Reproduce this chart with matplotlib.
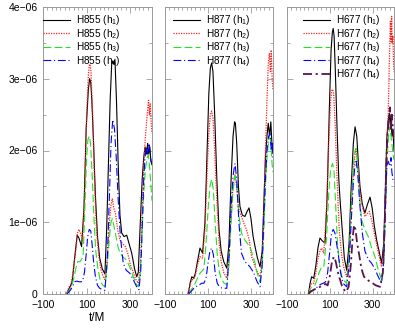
import matplotlib
matplotlib.use('Agg')
import matplotlib.pyplot as plt
from matplotlib.ticker import FixedLocator, FixedFormatter, MultipleLocator

plt.rcParams['font.family'] = ['Liberation Sans', 'DejaVu Sans']
plt.rcParams['mathtext.default'] = 'regular'

# values in units of 1e-6, times in M
# ---- panel 1: H855
h855_t1 = [8, 20, 28, 35, 45, 57, 65, 77, 88, 98, 108, 114, 119, 124, 132, 140, 150, 160, 172, 184, 192, 200, 208, 215, 220, 225, 230, 237, 245, 253, 261, 272, 284, 295, 307, 320, 330, 337, 345, 355, 362, 368, 375, 380, 385, 390, 395, 400]
h855_v1 = [0, 0.08, 0.12, 0.2, 0.5, 0.82, 0.78, 0.66, 1.2, 2.3, 2.85, 3.0, 2.95, 2.7, 2.1, 1.4, 0.8, 0.5, 0.35, 0.28, 0.9, 1.8, 2.7, 3.2, 3.25, 3.2, 3.27, 2.7, 1.8, 1.1, 0.85, 0.8, 0.82, 0.7, 0.57, 0.35, 0.24, 0.3, 0.9, 1.6, 1.9, 2.05, 1.95, 2.1, 1.95, 2.05, 1.85, 1.8]
h855_t2 = [6, 20, 30, 40, 50, 58, 65, 72, 82, 92, 100, 108, 113, 116, 120, 128, 136, 145, 155, 165, 175, 184, 195, 205, 212, 218, 224, 232, 242, 253, 265, 278, 290, 302, 314, 326, 337, 347, 355, 362, 370, 378, 384, 388, 392, 396, 400]
h855_v2 = [0, 0.1, 0.15, 0.35, 0.6, 0.85, 0.9, 0.85, 0.75, 1.5, 2.5, 3.05, 3.2, 3.2, 3.1, 2.5, 1.6, 0.9, 0.55, 0.35, 0.25, 0.2, 0.5, 1.0, 1.25, 1.33, 1.2, 1.13, 0.9, 0.75, 0.7, 0.66, 0.55, 0.4, 0.3, 0.2, 0.15, 0.4, 1.2, 1.8, 2.2, 2.5, 2.7, 2.5, 2.65, 2.4, 2.24]
h855_t3 = [8, 20, 30, 40, 50, 59, 70, 84, 92, 100, 106, 112, 118, 125, 133, 142, 152, 162, 172, 184, 195, 205, 212, 218, 225, 235, 245, 253, 265, 284, 300, 314, 326, 337, 347, 355, 362, 370, 378, 383, 388, 393, 400]
h855_v3 = [0, 0.05, 0.1, 0.2, 0.35, 0.45, 0.45, 0.52, 1.2, 1.9, 2.15, 2.2, 2.1, 1.7, 1.1, 0.6, 0.35, 0.2, 0.13, 0.1, 0.4, 0.8, 1.0, 1.05, 0.95, 0.8, 0.65, 0.57, 0.52, 0.47, 0.36, 0.24, 0.15, 0.1, 0.3, 0.9, 1.4, 1.75, 1.9, 1.94, 1.8, 1.6, 1.3]
h855_t4 = [10, 25, 35, 45, 55, 65, 75, 82, 90, 98, 105, 112, 119, 125, 132, 140, 150, 160, 172, 184, 195, 205, 212, 220, 228, 236, 245, 255, 268, 282, 298, 314, 330, 340, 348, 356, 362, 368, 374, 380, 386, 392, 396, 400]
h855_v4 = [0, 0.05, 0.1, 0.17, 0.18, 0.17, 0.17, 0.18, 0.3, 0.55, 0.8, 0.9, 0.88, 0.7, 0.45, 0.25, 0.12, 0.08, 0.06, 0.05, 0.5, 1.4, 2.1, 2.43, 2.3, 1.9, 1.31, 0.8, 0.43, 0.33, 0.29, 0.2, 0.1, 0.06, 0.3, 1.0, 1.6, 1.9, 2.05, 1.95, 2.1, 1.95, 1.85, 1.82]

# ---- panel 2: H877
h877_t1 = [8, 16, 24, 32, 40, 50, 62, 74, 85, 95, 103, 110, 116, 122, 130, 140, 150, 160, 172, 186, 196, 206, 215, 222, 226, 232, 240, 247, 258, 270, 280, 289, 298, 308, 317, 328, 340, 350, 358, 365, 372, 378, 384, 390, 395, 400]
h877_v1 = [0, 0.15, 0.24, 0.22, 0.28, 0.45, 0.64, 0.57, 1.0, 2.0, 2.8, 3.15, 3.22, 3.1, 2.5, 1.6, 0.9, 0.6, 0.45, 0.36, 0.7, 1.6, 2.2, 2.4, 2.38, 2.1, 1.5, 1.22, 1.1, 1.08, 1.15, 1.2, 1.05, 0.8, 0.66, 0.5, 0.38, 0.6, 1.3, 1.9, 2.2, 2.38, 2.2, 2.4, 2.1, 1.96]
h877_t2 = [8, 16, 24, 32, 40, 50, 62, 74, 85, 95, 103, 110, 116, 122, 130, 140, 150, 160, 172, 186, 196, 206, 215, 224, 232, 240, 254, 266, 277, 290, 301, 315, 328, 340, 350, 358, 365, 372, 378, 383, 388, 392, 396, 400]
h877_v2 = [0, 0.12, 0.2, 0.2, 0.25, 0.4, 0.52, 0.5, 0.9, 1.7, 2.25, 2.5, 2.55, 2.45, 2.0, 1.3, 0.75, 0.45, 0.3, 0.22, 0.5, 1.1, 1.5, 1.66, 1.5, 1.2, 1.08, 0.98, 0.9, 0.75, 0.52, 0.4, 0.3, 0.24, 0.5, 1.2, 2.0, 2.7, 3.2, 3.35, 3.1, 3.4, 3.0, 2.85]
h877_t3 = [10, 20, 30, 40, 50, 62, 72, 80, 90, 100, 108, 116, 124, 132, 142, 152, 162, 174, 186, 196, 206, 215, 224, 232, 242, 254, 270, 293, 305, 317, 328, 340, 350, 358, 365, 372, 380, 386, 392, 396, 400]
h877_v3 = [0, 0.05, 0.1, 0.15, 0.22, 0.29, 0.32, 0.35, 0.7, 1.2, 1.5, 1.6, 1.45, 1.0, 0.55, 0.3, 0.2, 0.15, 0.13, 0.4, 1.0, 1.45, 1.64, 1.5, 1.1, 0.85, 0.75, 0.66, 0.55, 0.43, 0.28, 0.17, 0.4, 0.9, 1.5, 1.9, 2.15, 2.24, 2.0, 1.8, 1.7]
h877_t4 = [10, 25, 40, 55, 70, 80, 90, 100, 108, 116, 124, 132, 142, 152, 165, 186, 196, 206, 215, 224, 232, 242, 254, 270, 293, 310, 325, 340, 350, 358, 365, 372, 380, 386, 392, 396, 400]
h877_v4 = [0, 0.05, 0.1, 0.12, 0.15, 0.15, 0.22, 0.45, 0.6, 0.64, 0.55, 0.3, 0.15, 0.1, 0.08, 0.08, 0.5, 1.2, 1.65, 1.82, 1.6, 1.0, 0.57, 0.45, 0.38, 0.3, 0.18, 0.1, 0.4, 1.1, 1.6, 2.0, 2.2, 2.24, 2.0, 2.1, 1.9]

# ---- panel 3: H677
h677_t1 = [0, 8, 15, 25, 35, 45, 54, 65, 78, 88, 98, 106, 112, 116, 120, 126, 134, 142, 148, 158, 168, 179, 190, 200, 210, 218, 226, 234, 241, 252, 264, 276, 288, 298, 308, 319, 330, 342, 352, 360, 366, 372, 378, 381, 386, 390, 395, 400]
h677_v1 = [0, 0.15, 0.24, 0.22, 0.4, 0.65, 0.78, 0.74, 0.71, 1.4, 2.6, 3.4, 3.65, 3.7, 3.6, 3.1, 2.3, 1.6, 1.31, 0.9, 0.5, 0.33, 0.7, 1.5, 2.1, 2.33, 2.2, 1.8, 1.5, 1.25, 1.13, 1.25, 1.35, 1.2, 0.95, 0.75, 0.6, 0.43, 0.7, 1.5, 2.15, 2.4, 2.52, 2.4, 2.5, 2.2, 2.3, 2.0]
h677_t2 = [0, 8, 15, 25, 35, 45, 54, 62, 72, 85, 95, 104, 110, 113, 118, 126, 134, 144, 155, 167, 179, 190, 200, 210, 218, 223, 230, 240, 249, 264, 275, 285, 298, 311, 325, 342, 352, 360, 367, 373, 378, 383, 386, 389, 392, 395, 398, 400]
h677_v2 = [0, 0.1, 0.15, 0.15, 0.3, 0.5, 0.6, 0.64, 0.57, 1.2, 2.1, 2.7, 2.85, 2.85, 2.8, 2.3, 1.6, 0.9, 0.55, 0.35, 0.24, 0.5, 1.2, 1.7, 1.95, 2.0, 1.85, 1.45, 1.26, 1.08, 1.12, 1.15, 1.0, 0.8, 0.6, 0.38, 0.6, 1.4, 2.1, 2.52, 3.2, 3.8, 3.5, 3.87, 3.5, 3.6, 3.2, 3.1]
h677_t3 = [0, 10, 20, 30, 40, 50, 62, 72, 85, 95, 104, 113, 120, 128, 136, 146, 156, 168, 179, 190, 200, 210, 218, 223, 230, 240, 249, 264, 280, 295, 311, 325, 342, 352, 360, 367, 373, 378, 381, 386, 390, 395, 400]
h677_v3 = [0, 0.08, 0.1, 0.12, 0.2, 0.3, 0.38, 0.38, 0.8, 1.4, 1.75, 1.82, 1.7, 1.2, 0.7, 0.4, 0.25, 0.18, 0.15, 0.5, 1.2, 1.8, 2.0, 2.03, 1.8, 1.3, 1.03, 0.9, 0.8, 0.65, 0.52, 0.35, 0.2, 0.45, 1.2, 1.8, 2.15, 2.3, 2.33, 2.2, 2.1, 1.95, 1.87]
h677_t4 = [0, 10, 20, 35, 50, 60, 70, 80, 90, 100, 108, 116, 124, 132, 139, 150, 162, 179, 190, 200, 210, 218, 223, 230, 241, 252, 264, 280, 295, 311, 325, 342, 352, 360, 366, 373, 381, 386, 390, 395, 400]
h677_v4 = [0, 0.04, 0.05, 0.08, 0.12, 0.14, 0.15, 0.17, 0.3, 0.6, 0.85, 0.9, 0.85, 0.7, 0.57, 0.3, 0.15, 0.1, 0.4, 1.0, 1.55, 1.8, 1.85, 1.7, 1.22, 0.85, 0.6, 0.48, 0.43, 0.35, 0.25, 0.15, 0.45, 1.2, 1.78, 1.85, 1.78, 1.9, 1.7, 1.6, 1.55]
h677_t5 = [0, 10, 25, 40, 55, 70, 80, 90, 100, 110, 119, 128, 138, 148, 160, 176, 188, 198, 206, 213, 220, 228, 236, 248, 260, 275, 288, 300, 315, 335, 348, 357, 363, 369, 375, 381, 386, 390, 395, 400]
h677_v5 = [0, 0.03, 0.06, 0.08, 0.1, 0.13, 0.14, 0.12, 0.25, 0.45, 0.52, 0.45, 0.3, 0.2, 0.08, 0.03, 0.1, 0.4, 0.75, 0.96, 0.9, 0.7, 0.57, 0.35, 0.24, 0.2, 0.17, 0.15, 0.12, 0.1, 0.3, 1.0, 1.7, 2.2, 2.4, 2.6, 2.3, 2.5, 2.3, 2.15]

panel_names = ['H855', 'H877', 'H677']
ytick_vals = [0, 1e-6, 2e-6, 3e-6, 4e-6]
ytick_labels = ['0', '1e\u221206', '2e\u221206', '3e\u221206', '4e\u221206']
xtick_vals = [-100, 100, 300]
xtick_labels = ['\u2212100', '100', '300']

styles = [
    dict(color='black', ls='-', lw=0.8),
    dict(color='#ff2020', ls=(0, (1, 1)), lw=0.9),
    dict(color='#22e022', ls=(0, (7, 3)), lw=0.8),
    dict(color='#0000ff', ls=(0, (7, 2.5, 1, 2.5)), lw=0.8),
    dict(color='#5c1450', ls=(0, (5, 2, 1.2, 2)), lw=1.3),
]

data = [
    [(h855_t1, h855_v1), (h855_t2, h855_v2), (h855_t3, h855_v3), (h855_t4, h855_v4)],
    [(h877_t1, h877_v1), (h877_t2, h877_v2), (h877_t3, h877_v3), (h877_t4, h877_v4)],
    [(h677_t1, h677_v1), (h677_t2, h677_v2), (h677_t3, h677_v3), (h677_t4, h677_v4), (h677_t5, h677_v5)],
]
sub = ['1', '2', '3', '4', '4']

W, H = 395, 330
fig = plt.figure(figsize=(W / 100, H / 100), dpi=100)
lefts = [43, 165, 287]
widths = [109, 108, 107]
leg_x = [0.0, 0.074, 0.15]
grey = '#9a9a9a'
fs = 7.2

for i in range(3):
    ax = fig.add_axes([lefts[i] / W, 36 / H, widths[i] / W, 287 / H])
    for j, (t, v) in enumerate(data[i]):
        ax.plot(t, [x * 1e-6 for x in v], label=f'{panel_names[i]} (h$_{sub[j]}$)',
                **styles[j])
    ax.set_xlim(-100, 400)
    ax.set_ylim(0, 4e-6)
    ax.xaxis.set_major_locator(FixedLocator(xtick_vals))
    ax.xaxis.set_major_formatter(FixedFormatter(xtick_labels))
    ax.xaxis.set_minor_locator(MultipleLocator(20))
    ax.yaxis.set_major_locator(FixedLocator(ytick_vals))
    ax.yaxis.set_minor_locator(MultipleLocator(0.5e-6))
    if i == 0:
        ax.yaxis.set_major_formatter(FixedFormatter(ytick_labels))
        ax.set_xlabel('t/M', fontsize=8.5, labelpad=1.5)
    else:
        ax.set_yticklabels([])
    ax.tick_params(which='both', direction='in', top=True, right=True,
                   colors=grey, labelcolor='black', labelsize=7.5, width=0.6)
    ax.tick_params(which='major', length=4, pad=4)
    ax.tick_params(which='minor', length=2)
    for s in ax.spines.values():
        s.set_color(grey)
        s.set_linewidth(0.7)
    ax.legend(loc='upper left', bbox_to_anchor=(leg_x[i], 0.978), frameon=False,
              fontsize=fs, handlelength=2.7, handletextpad=0.6, labelspacing=-0.05,
              borderpad=0, borderaxespad=0)

fig.savefig('out.png', dpi=100)
